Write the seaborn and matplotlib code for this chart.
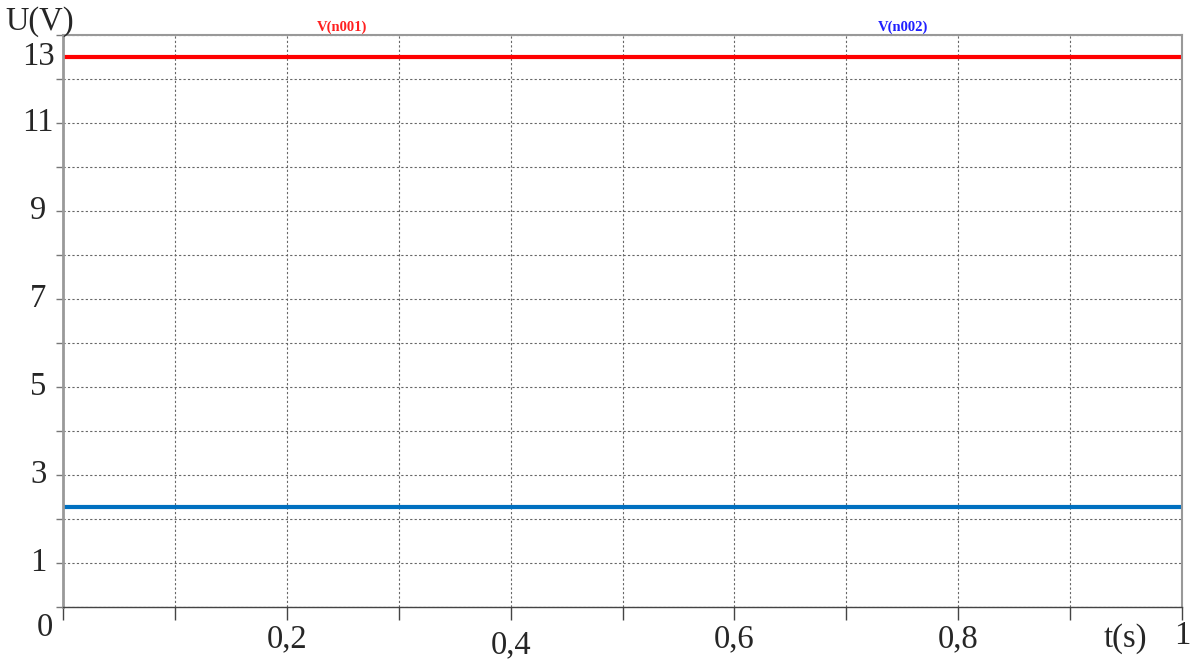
import numpy as np
import pandas as pd
import seaborn as sns
import matplotlib.pyplot as plt

# data
t_s = [0.0, 1.0]
v_n001 = [12.5, 12.5]
v_n002 = [2.27, 2.27]
x_ticks = [0.0, 0.1, 0.2, 0.3, 0.4, 0.5, 0.6, 0.7, 0.8, 0.9, 1.0]
y_ticks = list(range(0, 14))
x_labels = {0.2: "0,2", 0.4: "0,4", 0.6: "0,6", 0.8: "0,8"}
y_labels = {1: "1", 3: "3", 5: "5", 7: "7", 9: "9", 11: "11", 13: "13"}

df = pd.DataFrame({
    "t": t_s + t_s,
    "U": v_n001 + v_n002,
    "trace": ["V(n001)"] * 2 + ["V(n002)"] * 2,
})

sns.set_style("white")
plt.rcParams['font.family'] = ['Liberation Serif', 'DejaVu Serif']

fig = plt.figure(figsize=(11.97, 6.6), dpi=100)
ax = fig.add_axes([63 / 1197, 1 - 607 / 660, 1119 / 1197, 572 / 660])

sns.lineplot(data=df, x="t", y="U", hue="trace",
             palette={"V(n001)": "#ff0000", "V(n002)": "#0070c0"},
             linewidth=3, legend=False, ax=ax)

ax.set_xlim(0, 1)
ax.set_ylim(0, 13)
ax.set_xticks(x_ticks)
ax.set_yticks(y_ticks)
ax.set_xticklabels([])
ax.set_yticklabels([])
ax.set_xlabel("")
ax.set_ylabel("")
ax.grid(True, ls=(0, (2, 2)), color="#666666", lw=0.8)
ax.tick_params(axis="x", direction="out", length=9, width=1, color="#444444", bottom=True)
ax.tick_params(axis="y", direction="out", length=5, width=1, color="#777777", left=True)

for side in ["left", "top", "right"]:
    ax.spines[side].set_color("#999999")
ax.spines["left"].set_linewidth(2)
ax.spines["top"].set_linewidth(1.5)
ax.spines["right"].set_linewidth(1.5)
ax.spines["bottom"].set_color("#444444")
ax.spines["bottom"].set_linewidth(1)

big = 23.5
# y labels (the 13 sits just below the top, as in the source)
for v, s in y_labels.items():
    yv = 12.5 if v == 13 else v
    ax.text(-0.0223, yv, s, ha="center", va="center", fontsize=big, clip_on=False)
ax.text(-0.021, 13.3, "U(V)", ha="center", va="center", fontsize=big, clip_on=False)

# x labels, staggered like the source
for v, s in x_labels.items():
    yy = -0.86 if v == 0.4 else -0.72
    ax.text(v, yy, s, ha="center", va="center", fontsize=big, clip_on=False)
ax.text(-0.016, -0.48, "0", ha="center", va="center", fontsize=big, clip_on=False)
ax.text(0.949, -0.72, "t(s)", ha="center", va="center", fontsize=big, clip_on=False)
ax.text(1.0, -0.66, "1", ha="center", va="center", fontsize=big, clip_on=False)

# trace names
ax.text(0.249, 13.18, "V(n001)", ha="center", va="center", fontsize=10.5,
        fontweight="bold", color="#ff2020", clip_on=False)
ax.text(0.751, 13.18, "V(n002)", ha="center", va="center", fontsize=10.5,
        fontweight="bold", color="#2020ff", clip_on=False)

fig.savefig("out.png", dpi=100)
